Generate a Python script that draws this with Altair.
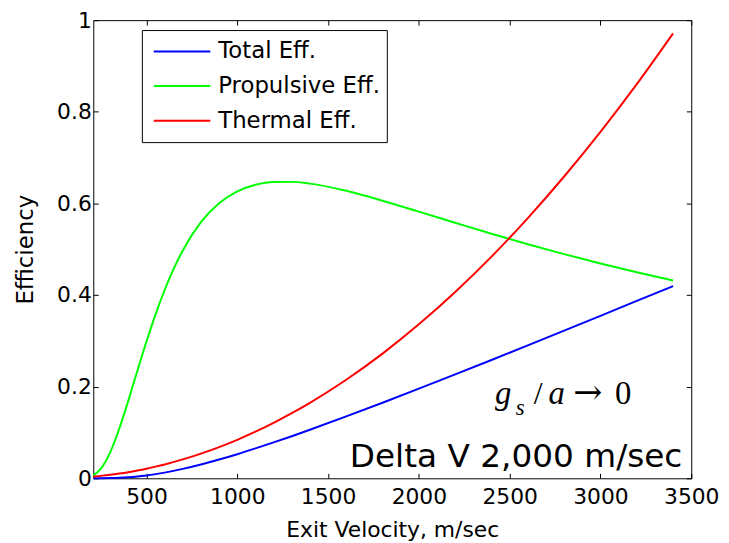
import altair as alt
import pandas as pd

# Exit velocity samples (m/sec)
velocity = [207, 250, 300, 350, 400, 450, 500, 550, 600, 700, 800, 900, 1000,
            1100, 1200, 1300, 1400, 1600, 1800, 2000, 2200, 2400, 2600, 2800,
            3000, 3200, 3400]
total_eff = [0.0000, 0.0001, 0.0004, 0.0011, 0.0023, 0.0040, 0.0063, 0.0091,
             0.0124, 0.0205, 0.0301, 0.0409, 0.0526, 0.0652, 0.0783, 0.0919,
             0.1059, 0.1350, 0.1649, 0.1956, 0.2268, 0.2583, 0.2902, 0.3223,
             0.3546, 0.3871, 0.4195]
propulsive_eff = [0.0059, 0.0215, 0.0566, 0.1081, 0.1696, 0.2348, 0.2985,
                  0.3579, 0.4110, 0.4974, 0.5590, 0.6002, 0.6261, 0.6407,
                  0.6469, 0.6470, 0.6432, 0.6275, 0.6059, 0.5820, 0.5577,
                  0.5337, 0.5109, 0.4893, 0.4690, 0.4499, 0.4319]
thermal_eff = [0.0036, 0.0053, 0.0076, 0.0103, 0.0134, 0.0170, 0.0210, 0.0254,
               0.0302, 0.0412, 0.0538, 0.0681, 0.0840, 0.1017, 0.1210, 0.1420,
               0.1647, 0.2151, 0.2722, 0.3360, 0.4066, 0.4839, 0.5680, 0.6587,
               0.7561, 0.8603, 0.9712]

series_names = ["Total Eff.", "Propulsive Eff.", "Thermal Eff."]
series_colors = ["#0000ff", "#00ff00", "#ff0000"]
x_ticks = [500, 1000, 1500, 2000, 2500, 3000, 3500]
y_ticks = [0, 0.2, 0.4, 0.6, 0.8, 1]
x_domain = [207, 3500]
y_domain = [0, 1]

# annotation anchors in data units: g_s / a -> 0
note_texts = ["g", "s", "/", "a", "\u2192", "0"]
note_x = [2419, 2533, 2632, 2714, 2850, 3080]
note_y = [0.162, 0.139, 0.162, 0.162, 0.162, 0.162]
delta_text = ["Delta V 2,000 m/sec"]
delta_x = [3451]
delta_y = [0.024]

rows = []
for name, vals in zip(series_names, [total_eff, propulsive_eff, thermal_eff]):
    for v, e in zip(velocity, vals):
        rows.append({"v": v, "eff": e, "series": name})
df = pd.DataFrame(rows)

FONT = "DejaVu Sans"
xscale = alt.Scale(domain=x_domain, nice=False, zero=False)
yscale = alt.Scale(domain=y_domain, nice=False)
inward = {"expr": "-5"}

lines = alt.Chart(df).mark_line(strokeWidth=2, interpolate="monotone").encode(
    x=alt.X("v:Q", scale=xscale,
            axis=alt.Axis(values=x_ticks, format="d", title="Exit Velocity, m/sec",
                          tickSize=inward, domain=False, grid=False, labelFlush=False,
                          labelPadding=13, titlePadding=13, titleFontSize=22)),
    y=alt.Y("eff:Q", scale=yscale,
            axis=alt.Axis(values=y_ticks, format="~g", title="Efficiency",
                          tickSize=inward, domain=False, grid=False, labelFlush=False,
                          labelPadding=7, titlePadding=19)),
    color=alt.Color("series:N",
                    scale=alt.Scale(domain=series_names, range=series_colors),
                    legend=alt.Legend(title=None, orient="none", legendX=49, legendY=10,
                                      symbolType="stroke", symbolSize=3249,
                                      symbolStrokeWidth=2, clipHeight=31,
                                      rowPadding=4, padding=6, symbolOffset=5,
                                      labelOffset=7, labelFontSize=23, labelFont=FONT,
                                      labelLimit=400,
                                      labelColor="black", strokeColor="black",
                                      fillColor="white")),
)

mirror = alt.Chart(df).mark_point(opacity=0).encode(
    x=alt.X("v:Q", scale=xscale,
            axis=alt.Axis(orient="top", values=x_ticks, labels=False, title="",
                          tickSize=inward, domain=False, grid=False)),
    y=alt.Y("eff:Q", scale=yscale,
            axis=alt.Axis(orient="right", values=y_ticks, labels=False, title="",
                          tickSize=inward, domain=False, grid=False)),
)

notes_df = pd.DataFrame({"x": note_x, "y": note_y, "t": note_texts})
def note(i, font="Liberation Serif", **kw):
    return alt.Chart(notes_df.iloc[[i]]).mark_text(
        align="left", baseline="alphabetic", font=font, color="black", **kw
    ).encode(
        x=alt.X("x:Q", scale=xscale, axis=None),
        y=alt.Y("y:Q", scale=yscale, axis=None),
        text="t:N",
    )

g_mark = note(0, fontSize=33, fontStyle="italic")
s_mark = note(1, fontSize=23, fontStyle="italic")
slash_mark = note(2, fontSize=32)
a_mark = note(3, fontSize=33, fontStyle="italic")
arrow_mark = note(4, font="DejaVu Serif", fontSize=35)
zero_mark = note(5, fontSize=33)

delta_df = pd.DataFrame({"x": delta_x, "y": delta_y, "t": delta_text})
delta = alt.Chart(delta_df).mark_text(
    align="right", baseline="alphabetic", font=FONT, fontSize=33, color="black"
).encode(
    x=alt.X("x:Q", scale=xscale, axis=None),
    y=alt.Y("y:Q", scale=yscale, axis=None),
    text="t:N",
)

chart = alt.layer(lines, mirror, g_mark, s_mark, slash_mark, a_mark, arrow_mark,
                  zero_mark, delta).resolve_axis(
    x="independent", y="independent"
).properties(
    width=603, height=462, autosize="none",
    padding={"left": 86, "top": 10, "right": 30, "bottom": 63},
).configure_view(
    stroke="black", strokeWidth=1
).configure_axis(
    labelFont=FONT, labelFontSize=22, labelColor="black",
    titleFont=FONT, titleFontSize=23, titleColor="black", titleFontWeight="normal",
    tickColor="black", tickWidth=1,
)

chart.save("out.html", embed_options={"renderer": "svg", "actions": False})
